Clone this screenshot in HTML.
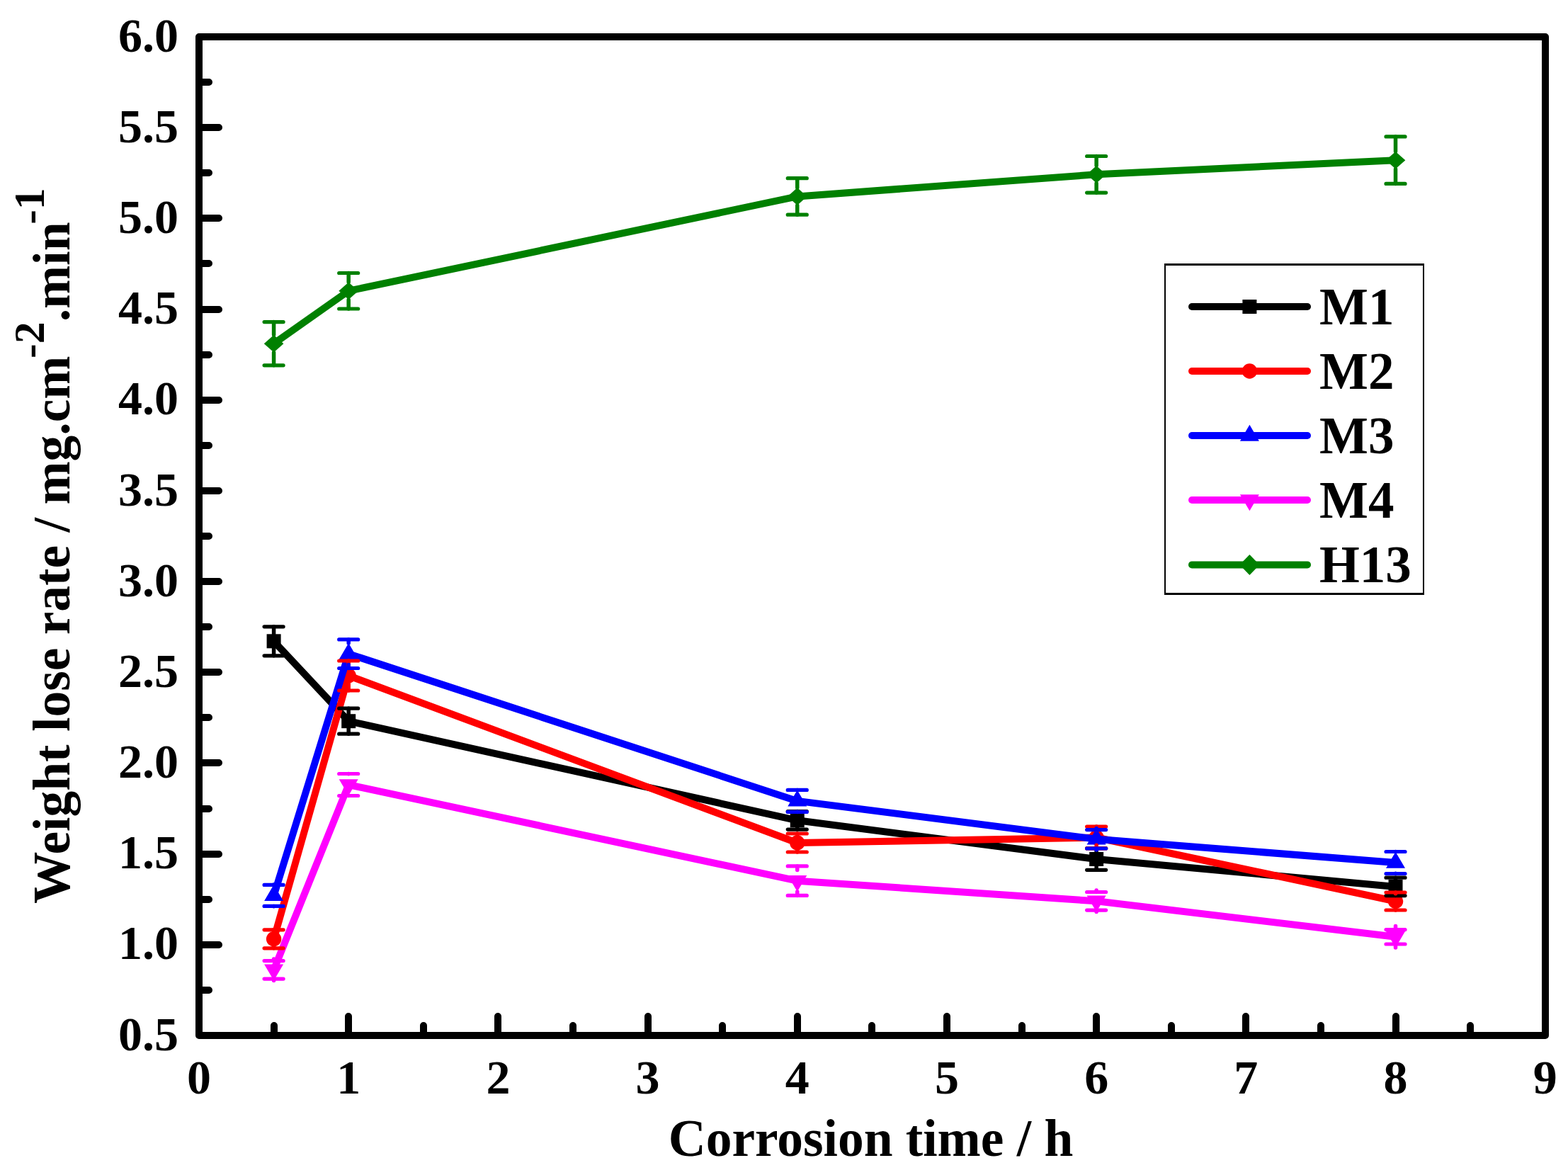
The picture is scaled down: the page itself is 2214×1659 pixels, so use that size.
<!DOCTYPE html>
<html><head><meta charset="utf-8"><title>Weight lose rate vs corrosion time</title>
<style>
html,body{margin:0;padding:0;background:#fff;}
svg{display:block;}
text{font-family:"Liberation Serif","Times New Roman",serif;font-weight:bold;fill:#000;}
</style></head><body>
<svg width="2214" height="1659" viewBox="0 0 2214 1659">
<rect x="0" y="0" width="2214" height="1659" fill="#fff"/>
<g stroke-linejoin="round" stroke-linecap="round" fill="none" stroke-width="10">
<path d="M386.6,905.3 L492.19,1018.2 L1125.76,1158.3 L1548.14,1213 L1970.52,1251.9" stroke="#000000"/>
<g stroke="none"><rect x="376.6" y="895.3" width="20" height="20" fill="#000000"/><rect x="482.19" y="1008.2" width="20" height="20" fill="#000000"/><rect x="1115.76" y="1148.3" width="20" height="20" fill="#000000"/><rect x="1538.14" y="1203" width="20" height="20" fill="#000000"/><rect x="1960.52" y="1241.9" width="20" height="20" fill="#000000"/></g>
<path d="M386.6,1325.8 L492.19,954 L1125.76,1190 L1548.14,1182.5 L1970.52,1272.5" stroke="#ff0000"/>
<g stroke="none"><circle cx="386.6" cy="1325.8" r="10.7" fill="#ff0000"/><circle cx="492.19" cy="954" r="10.7" fill="#ff0000"/><circle cx="1125.76" cy="1190" r="10.7" fill="#ff0000"/><circle cx="1548.14" cy="1182.5" r="10.7" fill="#ff0000"/><circle cx="1970.52" cy="1272.5" r="10.7" fill="#ff0000"/></g>
<path d="M386.6,1264.4 L492.19,923.2 L1125.76,1130.9 L1548.14,1184.8 L1970.52,1218" stroke="#0000ff"/>
<g stroke="none"><polygon points="386.6,1249.1 400.1,1272.1 373.1,1272.1" fill="#0000ff"/><polygon points="492.19,907.9 505.69,930.9 478.69,930.9" fill="#0000ff"/><polygon points="1125.76,1115.6 1139.26,1138.6 1112.26,1138.6" fill="#0000ff"/><polygon points="1548.14,1169.5 1561.64,1192.5 1534.64,1192.5" fill="#0000ff"/><polygon points="1970.52,1202.7 1984.02,1225.7 1957.02,1225.7" fill="#0000ff"/></g>
<path d="M386.6,1369.3 L492.19,1108 L1125.76,1243.7 L1548.14,1272.3 L1970.52,1322.8" stroke="#ff00ff"/>
<g stroke="none"><polygon points="386.6,1384.6 400.1,1361.6 373.1,1361.6" fill="#ff00ff"/><polygon points="492.19,1123.3 505.69,1100.3 478.69,1100.3" fill="#ff00ff"/><polygon points="1125.76,1259 1139.26,1236 1112.26,1236" fill="#ff00ff"/><polygon points="1548.14,1287.6 1561.64,1264.6 1534.64,1264.6" fill="#ff00ff"/><polygon points="1970.52,1338.1 1984.02,1315.1 1957.02,1315.1" fill="#ff00ff"/></g>
<path d="M386.6,485.2 L492.19,410.75 L1125.76,277.4 L1548.14,246.3 L1970.52,226.2" stroke="#008000"/>
<g stroke="none"><polygon points="386.6,472.9 400.4,485.2 386.6,497.5 372.8,485.2" fill="#008000"/><polygon points="492.19,398.45 505.99,410.75 492.19,423.05 478.39,410.75" fill="#008000"/><polygon points="1125.76,265.1 1139.56,277.4 1125.76,289.7 1111.96,277.4" fill="#008000"/><polygon points="1548.14,234 1561.94,246.3 1548.14,258.6 1534.34,246.3" fill="#008000"/><polygon points="1970.52,213.9 1984.32,226.2 1970.52,238.5 1956.72,226.2" fill="#008000"/></g>
</g>
<g stroke-linecap="round" fill="none">
<path d="M386.6,895.3V884.8M386.6,915.3V925.8M492.19,1008.2V1000.2M492.19,1028.2V1036.2M1125.76,1148.3V1145.5M1125.76,1168.3V1171.1M1548.14,1203V1197.7M1548.14,1223V1228.3M1970.52,1241.9V1239.2M1970.52,1261.9V1264.6" stroke="#000000" stroke-width="5.5"/>
<path d="M373.1,884.8H400.1M373.1,925.8H400.1M478.69,1000.2H505.69M478.69,1036.2H505.69M1112.26,1145.5H1139.26M1112.26,1171.1H1139.26M1534.64,1197.7H1561.64M1534.64,1228.3H1561.64M1957.02,1239.2H1984.02M1957.02,1264.6H1984.02" stroke="#000000" stroke-width="5.2"/>
<path d="M386.6,1315.1V1312.8M386.6,1336.5V1338.8M492.19,943.3V933M492.19,964.7V975M1125.76,1179.3V1177M1125.76,1200.7V1203M1548.14,1171.8V1167.1M1548.14,1193.2V1197.9M1970.52,1261.8V1260M1970.52,1283.2V1285" stroke="#ff0000" stroke-width="5.5"/>
<path d="M373.1,1312.8H400.1M373.1,1338.8H400.1M478.69,933H505.69M478.69,975H505.69M1112.26,1177H1139.26M1112.26,1203H1139.26M1534.64,1167.1H1561.64M1534.64,1197.9H1561.64M1957.02,1260H1984.02M1957.02,1285H1984.02" stroke="#ff0000" stroke-width="5.2"/>
<path d="M386.6,1249.1V1249.4M386.6,1279.7V1279.4M492.19,907.9V902.9M492.19,938.5V943.5M1125.76,1115.6V1115.4M1125.76,1146.2V1146.4M1548.14,1169.5V1171.6M1548.14,1200.1V1198M1970.52,1202.7V1202.5M1970.52,1233.3V1233.5" stroke="#0000ff" stroke-width="5.5"/>
<path d="M373.1,1249.4H400.1M373.1,1279.4H400.1M478.69,902.9H505.69M478.69,943.5H505.69M1112.26,1115.4H1139.26M1112.26,1146.4H1139.26M1534.64,1171.6H1561.64M1534.64,1198H1561.64M1957.02,1202.5H1984.02M1957.02,1233.5H1984.02" stroke="#0000ff" stroke-width="5.2"/>
<path d="M386.6,1354V1356.55M386.6,1384.6V1382.05M492.19,1092.7V1092.5M492.19,1123.3V1123.5M1125.76,1228.4V1222.95M1125.76,1259V1264.45M1548.14,1257V1259.5M1548.14,1287.6V1285.1M1970.52,1307.5V1312.6M1970.52,1338.1V1333" stroke="#ff00ff" stroke-width="5.5"/>
<path d="M373.1,1356.55H400.1M373.1,1382.05H400.1M478.69,1092.5H505.69M478.69,1123.5H505.69M1112.26,1222.95H1139.26M1112.26,1264.45H1139.26M1534.64,1259.5H1561.64M1534.64,1285.1H1561.64M1957.02,1312.6H1984.02M1957.02,1333H1984.02" stroke="#ff00ff" stroke-width="5.2"/>
<path d="M386.6,472.7V454.6M386.6,497.7V515.8M492.19,398.25V385.5M492.19,423.25V436M1125.76,264.9V251.65M1125.76,289.9V303.15M1548.14,233.8V220.5M1548.14,258.8V272.1M1970.52,213.7V192.95M1970.52,238.7V259.45" stroke="#008000" stroke-width="5.5"/>
<path d="M373.1,454.6H400.1M373.1,515.8H400.1M478.69,385.5H505.69M478.69,436H505.69M1112.26,251.65H1139.26M1112.26,303.15H1139.26M1534.64,220.5H1561.64M1534.64,272.1H1561.64M1957.02,192.95H1984.02M1957.02,259.45H1984.02" stroke="#008000" stroke-width="5.2"/>
</g>
<g stroke="#000" fill="none" stroke-width="10" stroke-linecap="round">
<path d="M286,1398H295M286,1334H309M286,1270H295M286,1206H309M286,1142H295M286,1077H309M286,1013H295M286,949H309M286,885H295M286,821H309M286,757H295M286,693H309M286,629H295M286,565H309M286,501H295M286,437H309M286,372H295M286,308H309M286,244H295M286,180H309M286,116H295M387,1457V1448M492,1457V1435M598,1457V1448M703,1457V1435M809,1457V1448M915,1457V1435M1020,1457V1448M1126,1457V1435M1231,1457V1448M1337,1457V1435M1443,1457V1448M1548,1457V1435M1654,1457V1448M1759,1457V1435M1865,1457V1448M1971,1457V1435M2076,1457V1448"/>
</g>
<rect x="281" y="52" width="1901" height="1410" fill="none" stroke="#000" stroke-width="10" stroke-linejoin="round"/>
<g font-size="68" text-anchor="end">
<text x="252" y="1482.6">0.5</text>
<text x="252" y="1354.42">1.0</text>
<text x="252" y="1226.24">1.5</text>
<text x="252" y="1098.06">2.0</text>
<text x="252" y="969.88">2.5</text>
<text x="252" y="841.7">3.0</text>
<text x="252" y="713.52">3.5</text>
<text x="252" y="585.34">4.0</text>
<text x="252" y="457.16">4.5</text>
<text x="252" y="328.98">5.0</text>
<text x="252" y="200.8">5.5</text>
<text x="252" y="72.62">6.0</text>
</g>
<g font-size="68" text-anchor="middle">
<text x="281" y="1543.5">0</text>
<text x="492.19" y="1543.5">1</text>
<text x="703.38" y="1543.5">2</text>
<text x="914.57" y="1543.5">3</text>
<text x="1125.76" y="1543.5">4</text>
<text x="1336.95" y="1543.5">5</text>
<text x="1548.14" y="1543.5">6</text>
<text x="1759.33" y="1543.5">7</text>
<text x="1970.52" y="1543.5">8</text>
<text x="2181.71" y="1543.5">9</text>
</g>
<text x="1229.5" y="1632" font-size="73.4" text-anchor="middle">Corrosion time / h</text>
<text transform="translate(98,1276) rotate(-90)" font-size="73.5">Weight lose rate / mg.cm<tspan font-size="62" dx="-3.5" dy="-36">-2</tspan><tspan dy="36">.min</tspan><tspan font-size="62" dx="-3.5" dy="-36">-1</tspan></text>
<g fill="#000"><rect x="1644" y="372" width="367" height="3"/><rect x="1644" y="837" width="367" height="3"/><rect x="1644" y="372" width="2" height="468"/><rect x="2009" y="372" width="2" height="468"/></g>
<path d="M1683,433H1846" stroke="#000000" stroke-width="10" stroke-linecap="round"/>
<rect x="1754.4" y="423" width="20" height="20" fill="#000000"/>
<text x="1863" y="457.5" font-size="73">M1</text>
<path d="M1683,524H1846" stroke="#ff0000" stroke-width="10" stroke-linecap="round"/>
<circle cx="1764.4" cy="524" r="10.7" fill="#ff0000"/>
<text x="1863" y="548.5" font-size="73">M2</text>
<path d="M1683,615H1846" stroke="#0000ff" stroke-width="10" stroke-linecap="round"/>
<polygon points="1764.4,599.7 1777.9,622.7 1750.9,622.7" fill="#0000ff"/>
<text x="1863" y="639.5" font-size="73">M3</text>
<path d="M1683,706H1846" stroke="#ff00ff" stroke-width="10" stroke-linecap="round"/>
<polygon points="1764.4,721.3 1777.9,698.3 1750.9,698.3" fill="#ff00ff"/>
<text x="1863" y="730.5" font-size="73">M4</text>
<path d="M1683,797.4H1846" stroke="#008000" stroke-width="10" stroke-linecap="round"/>
<polygon points="1764.4,782.9 1778.4,797.4 1764.4,811.9 1750.4,797.4" fill="#008000"/>
<text x="1863" y="821.9" font-size="73">H13</text>
</svg></body></html>
